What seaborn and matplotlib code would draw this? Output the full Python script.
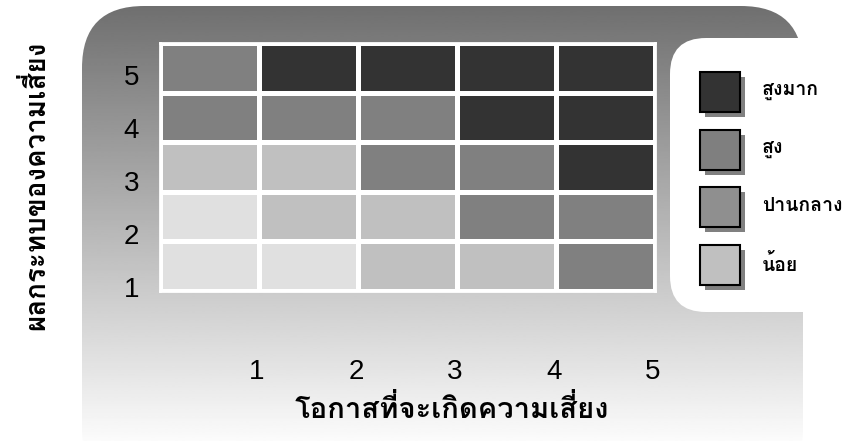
import numpy as np
import pandas as pd
import matplotlib
matplotlib.use("Agg")
import matplotlib.pyplot as plt
import seaborn as sns
from matplotlib import font_manager
from matplotlib.ft2font import FT2Font
from matplotlib.colors import ListedColormap
from matplotlib.patches import FancyBboxPatch, Rectangle

# ---------------- data ----------------
likelihood = ["1", "2", "3", "4", "5"]
impact = ["5", "4", "3", "2", "1"]            # top row first
risk_rows = [
    [3, 4, 4, 4, 4],   # impact 5
    [3, 3, 3, 4, 4],   # impact 4
    [2, 2, 3, 3, 4],   # impact 3
    [1, 2, 2, 3, 3],   # impact 2
    [1, 1, 2, 2, 3],   # impact 1
]
cell_colors = ["#e0e0e0", "#c0c0c0", "#808080", "#333333"]
legend_labels = ["สูงมาก", "สูง", "ปานกลาง", "น้อย"]
legend_colors = ["#333333", "#7f7f7f", "#8f8f8f", "#c0c0c0"]
xlabel = "โอกาสที่จะเกิดความเสี่ยง"
ylabel = "ผลกระทบของความเสี่ยง"

# ---------------- fonts ----------------
def thai_families():
    fams = []
    for f in font_manager.fontManager.ttflist:
        try:
            cm = FT2Font(f.fname).get_charmap()
        except Exception:
            continue
        if 0x0E2A in cm and f.name not in fams:
            fams.append(f.name)
    return fams

sns.set_theme(style="white")
tf = thai_families()
pref = [f for f in ["Loma", "Garuda", "Tlwg Typo", "Anuphan"] if f in tf] or tf[:1]
thai_fam = pref[:1] + ["DejaVu Sans"]
num_fam = ["Liberation Sans", "DejaVu Sans"]
plt.rcParams["font.family"] = thai_fam
plt.rcParams["text.color"] = "black"
plt.rcParams["xtick.color"] = "black"
plt.rcParams["ytick.color"] = "black"

W, H = 864, 441
fig = plt.figure(figsize=(W / 100, H / 100), dpi=100)
fig.patch.set_facecolor("white")

# background panel with vertical gradient
bg = fig.add_axes([0, 0, 1, 1], zorder=-5)
bg.set_xlim(0, W)
bg.set_ylim(H, 0)
bg.axis("off")
panel = FancyBboxPatch((82 + 62, 6 + 62), 803 - 82 - 124, 490 - 6 - 124,
                       boxstyle="round,pad=62", facecolor="none", edgecolor="none")
bg.add_patch(panel)
grad = np.linspace(0.43, 0.985, 256).reshape(-1, 1)
im = bg.imshow(grad, cmap="gray", vmin=0, vmax=1, aspect="auto",
               extent=(0, W, H, 0), interpolation="bilinear")
im.set_clip_path(panel)
bg.add_patch(FancyBboxPatch((670 + 36, 38 + 36), 300 - 72, 312 - 38 - 72,
                            boxstyle="round,pad=36", facecolor="white", edgecolor="none"))
bg.set_xlim(0, W)
bg.set_ylim(H, 0)

# legend swatches
for i, (lab, col) in enumerate(zip(legend_labels, legend_colors)):
    y0 = 72 + i * 57.7
    bg.add_patch(Rectangle((705, y0 + 5), 40, 40, facecolor="#808080", edgecolor="none"))
    bg.add_patch(Rectangle((700, y0), 40, 40, facecolor=col, edgecolor="black", linewidth=1.5))
    bg.text(762, y0 + 19, lab, fontsize=14, fontweight="bold", va="center", ha="left",
            color="black")

# heatmap
ax = fig.add_axes([160 / W, 1 - 291 / H, 495 / W, 248 / H])
df = pd.DataFrame(risk_rows, index=impact, columns=likelihood)
sns.heatmap(df, ax=ax, cmap=ListedColormap(cell_colors), vmin=0.5, vmax=4.5,
            cbar=False, linewidths=2.5, linecolor="white")
for s in ax.spines.values():
    s.set_visible(True)
    s.set_color("white")
    s.set_linewidth(2)
ax.set_xticks(np.arange(1, 6) - 0.02)
ax.set_xticklabels(likelihood, fontsize=20, rotation=0, family=num_fam, color="black")
ax.set_yticks(np.linspace(0.7, 4.98, 5))
ax.set_yticklabels(impact, fontsize=20, rotation=0, family=num_fam, color="black")
ax.tick_params(axis="x", length=0, pad=49)
ax.tick_params(axis="y", length=0, pad=15)
ax.set_xlabel("")
ax.set_ylabel("")

fig.text(452 / W, 1 - 410 / H, xlabel, fontsize=21, fontweight="bold", ha="center",
         va="center", color="black")
fig.text(35 / W, 1 - 185 / H, ylabel, fontsize=20, fontweight="bold", ha="center",
         va="center", rotation=90, color="black")

fig.savefig("out.png", dpi=100, facecolor="white")
